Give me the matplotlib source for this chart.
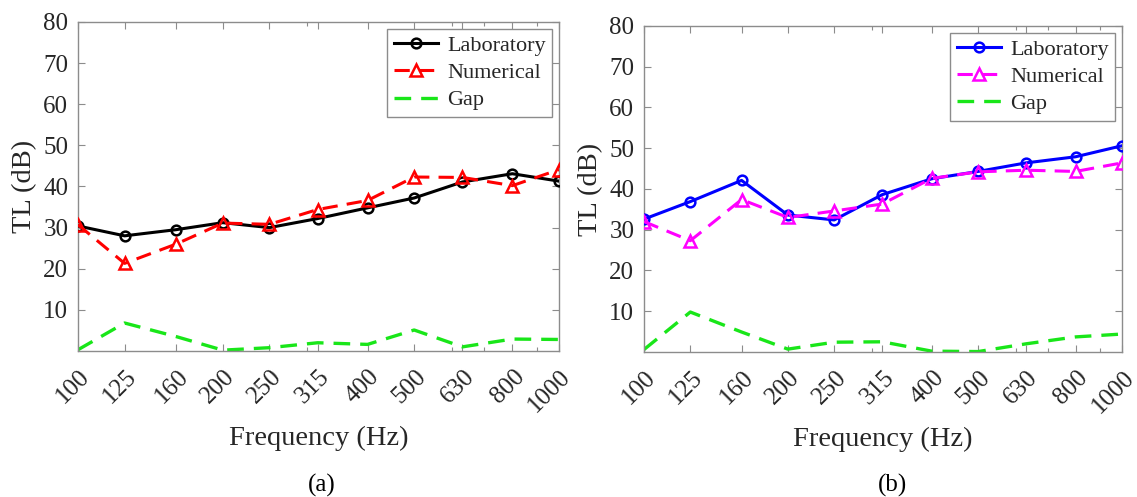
import matplotlib
matplotlib.use("Agg")
import matplotlib.pyplot as plt
from matplotlib.ticker import NullFormatter, FixedLocator
from matplotlib.transforms import ScaledTranslation

# data
freqs = [100, 125, 160, 200, 250, 315, 400, 500, 630, 800, 1000]
freq_labels = ["100", "125", "160", "200", "250", "315", "400", "500", "630", "800", "1000"]

lab_a = [30.4, 28.0, 29.5, 31.2, 30.0, 32.2, 34.8, 37.2, 41.1, 43.1, 41.3]
num_a = [30.7, 21.3, 26.0, 31.1, 30.8, 34.4, 36.6, 42.3, 42.2, 40.2, 44.1]
gap_a = [0.3, 6.8, 3.5, 0.2, 0.8, 2.0, 1.6, 5.1, 1.0, 2.9, 2.8]

lab_b = [32.6, 36.9, 42.1, 33.6, 32.4, 38.6, 42.5, 44.3, 46.4, 47.9, 50.6]
num_b = [32.0, 27.3, 37.4, 33.0, 34.6, 36.3, 42.6, 44.2, 44.6, 44.3, 46.4]
gap_b = [0.6, 9.8, 4.9, 0.7, 2.4, 2.5, 0.2, 0.1, 2.0, 3.7, 4.4]

y_ticks = [10, 20, 30, 40, 50, 60, 70, 80]

plt.rcParams["font.family"] = ["Liberation Serif", "DejaVu Serif"]

fig = plt.figure(figsize=(11.37, 4.97), dpi=100)
ax_a = fig.add_axes([0.0686, 0.2938, 0.4230, 0.662])
ax_b = fig.add_axes([0.5664, 0.2918, 0.4204, 0.656])

spine_col = "#8c8c8c"
text_col = "#262626"


def draw_panel(ax, lab, num, gap, lab_col, num_col):
    ax.plot(freqs, lab, "-o", color=lab_col, lw=2.2, ms=7, mfc="none", mew=1.8,
            label="Laboratory", zorder=3)
    ax.plot(freqs, num, "--^", color=num_col, lw=2.2, ms=8, mfc="none", mew=1.8,
            dashes=(5, 3), label="Numerical", zorder=3)
    ax.plot(freqs, gap, "--", color="#19e619", lw=2.4, dashes=(5, 3),
            label="Gap", zorder=2)

    ax.set_xscale("log")
    ax.set_xlim(100, 1000)
    ax.set_ylim(0, 80)
    ax.xaxis.set_major_locator(FixedLocator(freqs))
    ax.set_xticklabels(freq_labels, rotation=45, ha="right", va="center",
                       rotation_mode="anchor")
    ax.xaxis.set_minor_formatter(NullFormatter())
    ax.set_yticks(y_ticks)

    ax.tick_params(axis="both", which="both", direction="in", top=True, right=True,
                   color=spine_col, labelcolor=text_col, labelsize=18)
    ax.tick_params(axis="both", which="major", length=5, width=0.8)
    ax.tick_params(axis="x", which="minor", length=3, width=0.8)
    ax.tick_params(axis="x", which="major", pad=14)
    ax.tick_params(axis="y", which="major", pad=7)
    # shift rotated labels a bit right/down like the original
    shift = ScaledTranslation(0.085, -0.03, fig.dpi_scale_trans)
    for lbl in ax.get_xticklabels():
        lbl.set_transform(lbl.get_transform() + shift)
    for s in ax.spines.values():
        s.set_color(spine_col)
        s.set_linewidth(1.0)

    ax.set_xlabel("Frequency (Hz)", fontsize=20.5, color=text_col, labelpad=7)
    ax.set_ylabel("TL (dB)", fontsize=20.5, color=text_col, labelpad=4.5)

    leg = ax.legend(loc="upper right", fontsize=16, handlelength=2.0,
                    handletextpad=0.4, borderpad=0.3, labelspacing=0.3,
                    fancybox=False, framealpha=1, borderaxespad=0.3)
    leg.get_frame().set_edgecolor(spine_col)
    leg.get_frame().set_linewidth(1.0)
    for t in leg.get_texts():
        t.set_color(text_col)


draw_panel(ax_a, lab_a, num_a, gap_a, "black", "red")
draw_panel(ax_b, lab_b, num_b, gap_b, "blue", "magenta")

fig.text(0.283, 0.024, "(a)", fontsize=18, ha="center", va="center", color="black")
fig.text(0.785, 0.024, "(b)", fontsize=18, ha="center", va="center", color="black")

fig.savefig("out.png", dpi=100)
